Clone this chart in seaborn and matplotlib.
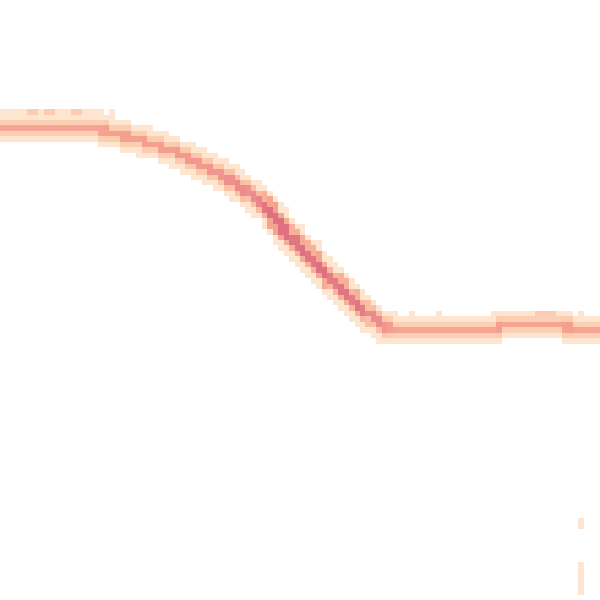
import numpy as np
import matplotlib
matplotlib.use("Agg")
import matplotlib.pyplot as plt
import seaborn as sns

# grid of the 2d histogram (110 x 110 cells over the 600 px square)
n_bins = 110
cell = 600 / n_bins

# centre of the band (pixel y, top = 0) for every column
centre_y = ([127] * 15 +
            [128, 128, 129, 130, 131, 133, 134, 136, 137, 139, 140, 142, 144, 145,
             147, 149, 151, 153, 156, 158, 161, 164, 166, 169, 172, 175, 178, 182,
             185, 190, 193, 197, 201, 206, 212, 219, 226, 232, 238, 243, 249, 255,
             260, 266, 273, 278, 283, 288, 294, 299, 304, 310, 314, 318, 322, 326, 328] +
            [330] * 13 + [329] * 6 + [327] + [325] * 11 + [326, 328] + [330] * 5)

# scattered single cells (column, row) away from the band
stray_cols = [5, 6, 8, 9, 13, 14, 15, 16, 17, 18, 20, 98, 99, 100, 101, 106,
              106, 106, 106, 106, 106, 106, 106, 106, 72, 75, 80]
stray_rows = [20, 20, 20, 20, 20, 20, 20, 20, 20, 20, 20, 57, 57, 57, 57, 57,
              95, 96, 103, 104, 105, 106, 107, 108, 57, 57, 57]

level_weights = [3.2, 1.9, 1.0]     # core, shoulder, edge of the band
level_limits = [0.75, 1.7, 2.8]

xs, ys, ws = [], [], []
cy = np.array(centre_y, dtype=float)
for c in range(n_bins):
    lo, hi = max(c - 1, 0), min(c + 1, n_bins - 1)
    slope = (cy[hi] - cy[lo]) / ((hi - lo) * cell)
    stretch = np.sqrt(1 + slope ** 2)
    r0 = int(cy[c] // cell)
    for r in range(r0 - 6, r0 + 7):
        d = ((r + 0.5) * cell - cy[c]) / cell / stretch
        for k, (lim, w) in enumerate(zip(level_limits, level_weights)):
            if abs(d) < lim:
                boost = [stretch ** 1.4, stretch ** 1.2, 1.0][k]
                xs.append((c + 0.5) * cell)
                ys.append((r + 0.5) * cell)
                ws.append(w * boost)
                break

for c, r in zip(stray_cols, stray_rows):
    xs.append((c + 0.5) * cell)
    ys.append((r + 0.5) * cell)
    ws.append(1.0)

cmap = sns.blend_palette(["#fee5cf", "#fcc9ad", "#f6a491", "#eb8a8b", "#de7081"],
                         as_cmap=True)

fig = plt.figure(figsize=(6, 6), dpi=100)
ax = fig.add_axes([0, 0, 1, 1])
edges = np.linspace(0, 600, n_bins + 1)
sns.histplot(x=xs, y=ys, weights=ws, bins=[edges, edges], cmap=cmap,
             vmin=1, vmax=5.5, ax=ax)
ax.set_xlim(0, 600)
ax.set_ylim(600, 0)
ax.axis("off")
fig.savefig("out.png", dpi=100, facecolor="white")
